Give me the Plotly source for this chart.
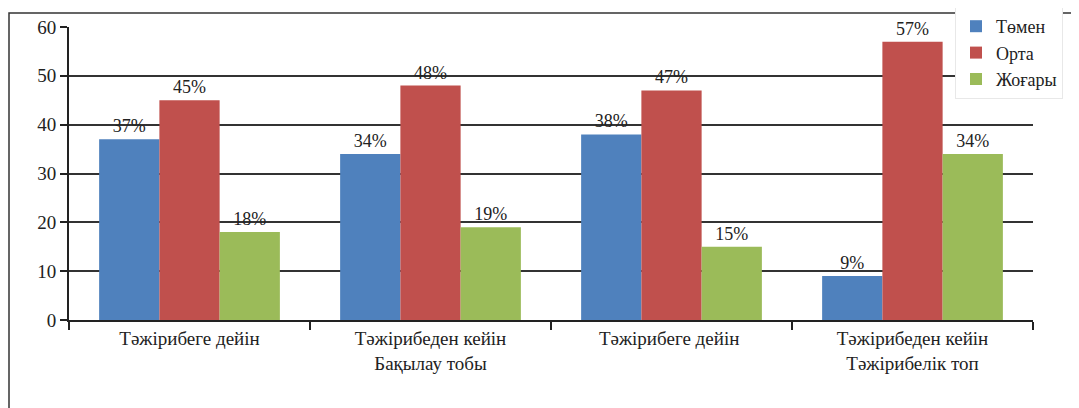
import plotly.graph_objects as go

categories = ["Тәжірибеге дейін", "Тәжірибеден кейін<br>Бақылау тобы",
              "Тәжірибеге дейін ", "Тәжірибеден кейін<br>Тәжірибелік топ"]
series_names = ["Төмен", "Орта", "Жоғары"]
tomen = [37, 34, 38, 9]
orta = [45, 48, 47, 57]
zhogary = [18, 19, 15, 34]
colors = ["#4F81BD", "#C0504D", "#9BBB59"]
y_ticks = [0, 10, 20, 30, 40, 50, 60]

font_family = "'Liberation Serif', 'Times New Roman', 'DejaVu Serif', serif"

# page has 8px default body margin; compensate
OFF = 8
L, R, T, B0 = 69 - OFF, 1033 - OFF, 27 - OFF, 320 - OFF
W, H = 1079, 408

fig = go.Figure()
for name, vals, col in zip(series_names, [tomen, orta, zhogary], colors):
    fig.add_trace(go.Bar(
        x=categories, y=vals, name=name, marker_color=col, marker_line_width=0,
        text=[f"{v}%" for v in vals], textposition="outside",
        textfont=dict(family=font_family, size=18, color="#222"),
        cliponaxis=False,
    ))

fig.update_layout(
    width=W, height=H,
    margin=dict(l=L, r=W - R, t=T, b=H - B0, autoexpand=False),
    paper_bgcolor="white", plot_bgcolor="white",
    barmode="group", bargap=0.25, bargroupgap=0,
    font=dict(family=font_family, size=18, color="#222"),
    legend=dict(x=(955 - OFF - L) / (R - L), y=(B0 - (7 - OFF)) / (B0 - T),
                xanchor="left", yanchor="top",
                bgcolor="white", bordercolor="#e8e8e8", borderwidth=1,
                font=dict(family=font_family, size=18, color="#222"),
                tracegroupgap=0, itemwidth=30),
    showlegend=True,
)
fig.update_yaxes(range=[0, 60], tickvals=y_ticks, showgrid=True, gridcolor="#333",
                 gridwidth=1.5, showline=True, linecolor="#222", linewidth=2,
                 ticks="outside", ticklen=7, tickcolor="#222", tickwidth=1.5,
                 tickfont=dict(family=font_family, size=19, color="#222"),
                 zeroline=False, automargin=False)
fig.update_xaxes(showline=True, linecolor="#222", linewidth=2, tickson="boundaries",
                 ticks="outside", ticklen=8, tickcolor="#222", tickwidth=1.5,
                 tickfont=dict(family=font_family, size=19, color="#222"),
                 automargin=False)

# outer chart border
fig.add_shape(type="rect", xref="paper", yref="paper",
              x0=(9 - OFF - L) / (R - L), x1=(1075 - OFF - L) / (R - L),
              y0=(B0 - (412 - OFF)) / (B0 - T), y1=(B0 - (13 - OFF)) / (B0 - T),
              line=dict(color="#333", width=1.5), fillcolor="rgba(0,0,0,0)")

fig.write_html("out.html")
